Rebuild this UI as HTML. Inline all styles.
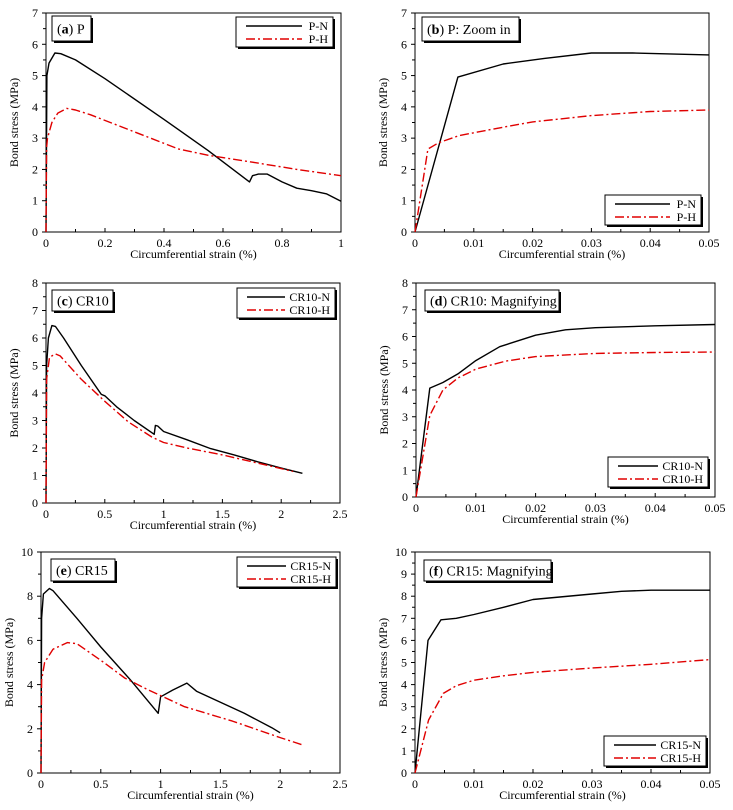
<!DOCTYPE html>
<html><head><meta charset="utf-8">
<style>
html,body{margin:0;padding:0;background:#fff;}
svg{display:block;font-family:"Liberation Serif",serif;}
</style></head>
<body>
<svg id="fig" width="733" height="810" viewBox="0 0 733 810" xmlns="http://www.w3.org/2000/svg"></svg>
<script>
// Panel (a)
const aNx=[0,0.003,0.01,0.03,0.05,0.1,0.2,0.4,0.55,0.69,0.70,0.72,0.75,0.8,0.85,0.9,0.95,1.0];
const aNy=[0,5.0,5.4,5.72,5.7,5.5,4.9,3.6,2.6,1.6,1.8,1.85,1.85,1.6,1.4,1.32,1.22,0.98];
const aHx=[0,0.002,0.005,0.02,0.04,0.07,0.1,0.15,0.3,0.45,0.55,0.7,0.85,1.0];
const aHy=[0,2.7,3.0,3.5,3.8,3.95,3.9,3.75,3.2,2.65,2.45,2.23,2.0,1.8];
const aXTicks=["0","0.2","0.4","0.6","0.8","1"];
const aYTicks=["0","1","2","3","4","5","6","7"];
// Panel (b)
const bNx=[0,0.0073,0.015,0.022,0.03,0.037,0.05];
const bNy=[0,4.95,5.37,5.55,5.72,5.72,5.66];
const bHx=[0,0.0022,0.004,0.0075,0.015,0.02,0.03,0.04,0.05];
const bHy=[0,2.65,2.85,3.08,3.35,3.52,3.72,3.85,3.9];
const bXTicks=["0","0.01","0.02","0.03","0.04","0.05"];
const bYTicks=["0","1","2","3","4","5","6","7"];
// Panel (c)
const cNx=[0,0.005,0.02,0.05,0.08,0.15,0.3,0.47,0.5,0.6,0.75,0.92,0.93,0.95,1.0,1.2,1.4,1.6,1.8,2.0,2.18];
const cNy=[0,5.0,6.0,6.45,6.42,6.0,5.0,3.95,3.9,3.5,3.0,2.5,2.82,2.8,2.6,2.3,1.98,1.75,1.5,1.27,1.08];
const cHx=[0,0.005,0.03,0.08,0.12,0.3,0.5,0.7,0.9,1.0,1.2,1.5,1.8,2.1];
const cHy=[0,4.5,5.3,5.42,5.35,4.5,3.7,2.95,2.4,2.2,2.0,1.75,1.45,1.15];
const cXTicks=["0","0.5","1","1.5","2","2.5"];
const cYTicks=["0","1","2","3","4","5","6","7","8"];
// Panel (d)
const dNx=[0,0.0023,0.0045,0.007,0.01,0.014,0.02,0.025,0.03,0.04,0.05];
const dNy=[0,4.07,4.28,4.6,5.1,5.62,6.05,6.25,6.33,6.4,6.45];
const dHx=[0,0.0023,0.0045,0.007,0.01,0.015,0.02,0.03,0.04,0.05];
const dHy=[0,3.05,4.0,4.45,4.78,5.08,5.25,5.37,5.4,5.42];
const dXTicks=["0","0.01","0.02","0.03","0.04","0.05"];
const dYTicks=["0","1","2","3","4","5","6","7","8"];
// Panel (e)
const eNx=[0,0.005,0.02,0.07,0.1,0.3,0.5,0.75,0.98,1.0,1.1,1.22,1.3,1.5,1.7,1.93,2.0];
const eNy=[0,7.0,8.1,8.35,8.25,7.0,5.7,4.2,2.7,3.45,3.75,4.07,3.7,3.2,2.7,2.05,1.82];
const eHx=[0,0.005,0.03,0.1,0.22,0.3,0.5,0.7,0.9,1.0,1.2,1.6,2.0,2.2];
const eHy=[0,4.2,5.0,5.6,5.9,5.85,5.1,4.3,3.75,3.5,3.0,2.35,1.6,1.25];
const eXTicks=["0","0.5","1","1.5","2","2.5"];
const eYTicks=["0","2","4","6","8","10"];
// Panel (f)
const fNx=[0,0.0022,0.0044,0.007,0.01,0.015,0.02,0.03,0.035,0.04,0.05];
const fNy=[0,6.0,6.93,7.0,7.17,7.5,7.85,8.1,8.22,8.27,8.27];
const fHx=[0,0.0023,0.0048,0.007,0.01,0.015,0.02,0.03,0.04,0.05];
const fHy=[0,2.4,3.6,3.95,4.2,4.4,4.55,4.75,4.92,5.13];
const fXTicks=["0","0.01","0.02","0.03","0.04","0.05"];
const fYTicks=["0","1","2","3","4","5","6","7","8","9","10"];

const NS="http://www.w3.org/2000/svg";
const svg=document.getElementById('fig');
function mk(tag,attrs,parent){const e=document.createElementNS(NS,tag);for(const k in attrs)e.setAttribute(k,attrs[k]);parent.appendChild(e);return e;}

const panels=[
 {id:'a',L:46,R:341,T:13,B:232,xt:aXTicks,yt:aYTicks,ym:1,N:[aNx,aNy],H:[aHx,aHy],names:['P-N','P-H'],letter:'a',title:' P',tb:[52,16,39,25],lg:[236,17,97,30]},
 {id:'b',L:415,R:709,T:13,B:232,xt:bXTicks,yt:bYTicks,ym:1,N:[bNx,bNy],H:[bHx,bHy],names:['P-N','P-H'],letter:'b',title:' P: Zoom in',tb:[422,17,97,24],lg:[605,195,96,30]},
 {id:'c',L:46,R:340,T:283,B:503,xt:cXTicks,yt:cYTicks,ym:1,N:[cNx,cNy],H:[cHx,cHy],names:['CR10-N','CR10-H'],letter:'c',title:' CR10',tb:[52,290,61,21],lg:[237,288,98,30]},
 {id:'d',L:416,R:715,T:283,B:497,xt:dXTicks,yt:dYTicks,ym:1,N:[dNx,dNy],H:[dHx,dHy],names:['CR10-N','CR10-H'],letter:'d',title:' CR10: Magnifying',tb:[425,290,134,21],lg:[608,457,100,30]},
 {id:'e',L:41,R:340,T:552,B:773,xt:eXTicks,yt:eYTicks,ym:2,N:[eNx,eNy],H:[eHx,eHy],names:['CR15-N','CR15-H'],letter:'e',title:' CR15',tb:[51,559,64,22],lg:[237,557,99,30]},
 {id:'f',L:415,R:710,T:552,B:773,xt:fXTicks,yt:fYTicks,ym:1,N:[fNx,fNy],H:[fHx,fHy],names:['CR15-N','CR15-H'],letter:'f',title:' CR15: Magnifying',tb:[424,560,127,21],lg:[604,736,102,30]}
];

panels.forEach(p=>{
 const g=mk('g',{},svg);
 
 
 const xmax=parseFloat(p.xt[p.xt.length-1]);
 const ymax=parseFloat(p.yt[p.yt.length-1]);
 const sx=v=>p.L+(v/xmax)*(p.R-p.L);
 const sy=v=>p.B-(v/ymax)*(p.B-p.T);
 const fr=mk('rect',{x:p.L,y:p.T,width:p.R-p.L,height:p.B-p.T,fill:'none',stroke:'#000','stroke-width':1},g);
 
 
 const ny=p.yt.length-1;
 for(let i=0;i<=ny;i++){
  const v=parseFloat(p.yt[i]);const y=sy(v);
  mk('line',{x1:p.L-4,x2:p.L,y1:y,y2:y,stroke:'#000','stroke-width':1},g);
  if(i<ny){const ym=sy(v+p.ym/2);mk('line',{x1:p.L-3,x2:p.L,y1:ym,y2:ym,stroke:'#000','stroke-width':1},g);}
  const t=mk('text',{x:p.L-8,y:y+4,'font-size':12,'text-anchor':'end'},g);
  t.textContent=p.yt[i];
  
  
 }
 const nx=p.xt.length-1;
 for(let i=0;i<=nx;i++){
  const v=parseFloat(p.xt[i]);const x=sx(v);
  mk('line',{x1:x,x2:x,y1:p.B,y2:p.B-4,stroke:'#000','stroke-width':1},g);
  if(i<nx){const xm=sx(v+(parseFloat(p.xt[1])-parseFloat(p.xt[0]))/2);mk('line',{x1:xm,x2:xm,y1:p.B,y2:p.B-3,stroke:'#000','stroke-width':1},g);}
  const t=mk('text',{x:x,y:p.B+15,'font-size':12,'text-anchor':'middle'},g);
  t.textContent=p.xt[i];
  
  
 }
 const xt=mk('text',{x:(p.L+p.R)/2,y:p.B+26,'font-size':12,'text-anchor':'middle'},g);
 xt.textContent='Circumferential strain (%)';
 
 
 const yx=p.L-28,ymid=(p.T+p.B)/2;
 const yt=mk('text',{x:yx,y:ymid,'font-size':12,'text-anchor':'middle',transform:`rotate(-90 ${yx} ${ymid})`},g);
 yt.textContent='Bond stress (MPa)';
 
 
 const path=(xs,ys)=>xs.map((x,i)=>(i?'L':'M')+sx(x).toFixed(1)+' '+sy(ys[i]).toFixed(1)).join(' ');
 const sN=mk('path',{d:path(p.N[0],p.N[1]),fill:'none',stroke:'#000','stroke-width':1.4,'stroke-linejoin':'round'},g);
 
 
 const sH=mk('path',{d:path(p.H[0],p.H[1]),fill:'none',stroke:'#e00000','stroke-width':1.4,'stroke-dasharray':'9 3 2 3','stroke-linejoin':'round'},g);
 
 
 const [tx,ty,tw,th]=p.tb;
 mk('rect',{x:tx+2,y:ty+2,width:tw,height:th,fill:'#000'},g);
 const tr=mk('rect',{x:tx,y:ty,width:tw,height:th,fill:'#fff',stroke:'#000','stroke-width':1},g);
 
 
 const tt=mk('text',{x:tx+5,y:ty+th/2+5,'font-size':14},g);
 
 
 const s1=mk('tspan',{},tt);s1.textContent='(';
 const s2=mk('tspan',{'font-weight':'bold'},tt);s2.textContent=p.letter;
 const s3=mk('tspan',{},tt);s3.textContent=')'+p.title;
 const [lx,ly,lw,lh]=p.lg;
 mk('rect',{x:lx+2,y:ly+2,width:lw,height:lh,fill:'#000'},g);
 const lr=mk('rect',{x:lx,y:ly,width:lw,height:lh,fill:'#fff',stroke:'#000','stroke-width':1},g);
 
 
 const tx2=lx+lw-5;
 const txtW=p.names[0].length>3?42:23;
 [[0,'#000',null],[1,'#e00000','9 3 2 3']].forEach(([k,col,da])=>{
  const yy=ly+9+k*13;
  const ln=mk('line',{x1:lx+10,x2:tx2-txtW-3,y1:yy,y2:yy,stroke:col,'stroke-width':1.4},g);
  if(da)ln.setAttribute('stroke-dasharray',da);
  
  
  const lt=mk('text',{x:tx2,y:yy+4,'font-size':12,'text-anchor':'end'},g);
  lt.textContent=p.names[k];
  
  
 });
});
</script>
</body></html>
